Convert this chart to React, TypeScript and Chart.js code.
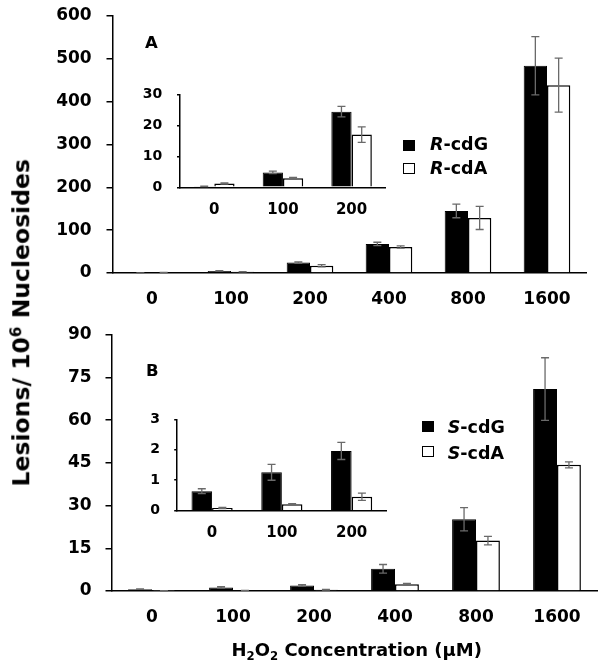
import React, { useEffect, useRef } from 'react';
import { Chart, registerables } from 'chart.js';

Chart.register(...registerables);

// ---------- data ----------
const doseLabels = ['0', '100', '200', '400', '800', '1600'];
const insetDoseLabels = ['0', '100', '200'];

const rCdG = [0.3, 4.8, 24.4, 67.8, 145, 484];
const rCdGErr = [0.1, 0.4, 1.7, 4, 16, 68];
const rCdA = [1.2, 2.9, 17.0, 60.7, 128.5, 438.5];
const rCdAErr = [0.2, 0.3, 2.5, 2.7, 27, 63];

const sCdG = [0.64, 1.26, 1.96, 7.8, 25.2, 70.9];
const sCdGErr = [0.08, 0.26, 0.28, 1.5, 4.1, 11];
const sCdA = [0.09, 0.21, 0.46, 2.35, 17.7, 44.3];
const sCdAErr = [0.02, 0.02, 0.12, 0.3, 1.5, 1.05];

const axisAMax = 600, axisAStep = 100;
const axisBMax = 90, axisBStep = 15;
const insetAMax = 30, insetAStep = 10;
const insetBMax = 3, insetBStep = 1;

const FONT = "'DejaVu Sans', 'Liberation Sans', Arial, sans-serif";

const errorBarPlugin = {
  id: 'errorBars',
  afterDatasetsDraw(chart: any) {
    const ctx = chart.ctx;
    const yScale = chart.scales.y;
    ctx.save();
    ctx.strokeStyle = '#6a6a6a';
    ctx.lineWidth = 1.3;
    chart.data.datasets.forEach((ds: any, i: number) => {
      const errs = ds.errors;
      if (!errs) return;
      const meta = chart.getDatasetMeta(i);
      meta.data.forEach((el: any, j: number) => {
        const v = ds.data[j];
        const e = errs[j];
        const yTop = yScale.getPixelForValue(v + e);
        const yBot = yScale.getPixelForValue(Math.max(v - e, 0));
        const x = el.x;
        const cap = 4;
        ctx.beginPath();
        ctx.moveTo(x, yTop);
        ctx.lineTo(x, yBot);
        ctx.moveTo(x - cap, yTop);
        ctx.lineTo(x + cap, yTop);
        ctx.moveTo(x - cap, yBot);
        ctx.lineTo(x + cap, yBot);
        ctx.stroke();
      });
    });
    ctx.restore();
  },
};

interface Cfg {
  labels: string[];
  black: number[];
  blackErr: number[];
  white: number[];
  whiteErr: number[];
  names: [string, string];
  yMax: number;
  yStep: number;
  yWidth: number;
  xHeight: number;
  padTop: number;
  padRight: number;
  yFont: number;
  xFont: number;
  tickLen: number;
  yPad: number;
  xPad: number;
}

function makeConfig(c: Cfg): any {
  const common = { categoryPercentage: 0.59, barPercentage: 1.0 };
  return {
    type: 'bar',
    data: {
      labels: c.labels,
      datasets: [
        {
          label: c.names[0],
          data: c.black,
          errors: c.blackErr,
          backgroundColor: '#000',
          borderColor: '#000',
          borderWidth: 1,
          ...common,
        },
        {
          label: c.names[1],
          data: c.white,
          errors: c.whiteErr,
          backgroundColor: '#fff',
          borderColor: '#000',
          borderWidth: 1.5,
          ...common,
        },
      ],
    },
    options: {
      responsive: false,
      animation: false,
      devicePixelRatio: 1,
      layout: { padding: { top: c.padTop, right: c.padRight, bottom: 0, left: 0 } },
      plugins: { legend: { display: false }, tooltip: { enabled: false } },
      scales: {
        x: {
          type: 'category',
          offset: true,
          grid: { display: false, drawTicks: false },
          border: { display: true, color: '#000', width: 1.5 },
          ticks: {
            color: '#000',
            font: { family: FONT, weight: 'bold', size: c.xFont },
            padding: c.xPad,
            maxRotation: 0,
            autoSkip: false,
          },
          afterFit: (s: any) => {
            s.height = c.xHeight;
            s.paddingLeft = 0;
            s.paddingRight = 0;
          },
        },
        y: {
          min: 0,
          max: c.yMax,
          grid: {
            display: true,
            drawOnChartArea: false,
            drawTicks: true,
            tickLength: c.tickLen,
            color: '#000',
            lineWidth: 1.5,
          },
          border: { display: true, color: '#000', width: 1.5 },
          ticks: {
            stepSize: c.yStep,
            color: '#000',
            font: { family: FONT, weight: 'bold', size: c.yFont },
            padding: c.yPad,
          },
          afterFit: (s: any) => {
            s.width = c.yWidth;
            s.paddingTop = 0;
            s.paddingBottom = 0;
          },
        },
      },
    },
    plugins: [errorBarPlugin],
  };
}

const textBase: React.CSSProperties = {
  position: 'absolute',
  fontFamily: FONT,
  fontWeight: 'bold',
  lineHeight: 1,
  whiteSpace: 'nowrap',
  color: '#000',
  margin: 0,
};

export default function App() {
  const mainARef = useRef<HTMLCanvasElement>(null);
  const mainBRef = useRef<HTMLCanvasElement>(null);
  const insetARef = useRef<HTMLCanvasElement>(null);
  const insetBRef = useRef<HTMLCanvasElement>(null);

  useEffect(() => {
    const charts: Chart[] = [];
    charts.push(
      new Chart(
        mainARef.current!,
        makeConfig({
          labels: doseLabels,
          black: rCdG,
          blackErr: rCdGErr,
          white: rCdA,
          whiteErr: rCdAErr,
          names: ['R-cdG', 'R-cdA'],
          yMax: axisAMax,
          yStep: axisAStep,
          yWidth: 112.5,
          xHeight: 47,
          padTop: 16,
          padRight: 17.5,
          yFont: 17,
          xFont: 17,
          tickLen: 6,
          yPad: 14.8,
          xPad: 16,
        })
      )
    );
    charts.push(
      new Chart(
        mainBRef.current!,
        makeConfig({
          labels: doseLabels,
          black: sCdG,
          blackErr: sCdGErr,
          white: sCdA,
          whiteErr: sCdAErr,
          names: ['S-cdG', 'S-cdA'],
          yMax: axisBMax,
          yStep: axisBStep,
          yWidth: 111.5,
          xHeight: 79,
          padTop: 14.7,
          padRight: 6.5,
          yFont: 17,
          xFont: 17,
          tickLen: 6,
          yPad: 13.8,
          xPad: 16,
        })
      )
    );
    charts.push(
      new Chart(
        insetARef.current!,
        makeConfig({
          labels: insetDoseLabels,
          black: rCdG.slice(0, 3),
          blackErr: rCdGErr.slice(0, 3),
          white: rCdA.slice(0, 3),
          whiteErr: rCdAErr.slice(0, 3),
          names: ['R-cdG', 'R-cdA'],
          yMax: insetAMax,
          yStep: insetAStep,
          yWidth: 60,
          xHeight: 42.7,
          padTop: 24.3,
          padRight: 14.1,
          yFont: 14,
          xFont: 15,
          tickLen: 3,
          yPad: 14.7,
          xPad: 13.7,
        })
      )
    );
    charts.push(
      new Chart(
        insetBRef.current!,
        makeConfig({
          labels: insetDoseLabels,
          black: sCdG.slice(0, 3),
          blackErr: sCdGErr.slice(0, 3),
          white: sCdA.slice(0, 3),
          whiteErr: sCdAErr.slice(0, 3),
          names: ['S-cdG', 'S-cdA'],
          yMax: insetBMax,
          yStep: insetBStep,
          yWidth: 57.2,
          xHeight: 44.3,
          padTop: 24.3,
          padRight: 13.5,
          yFont: 14,
          xFont: 15,
          tickLen: 3,
          yPad: 14.2,
          xPad: 13.6,
        })
      )
    );
    return () => {
      charts.forEach((ch) => ch.destroy());
    };
  }, []);

  const canvasStyle = (left: number, top: number, w: number, h: number): React.CSSProperties => ({
    position: 'absolute',
    left,
    top,
    width: w,
    height: h,
  });

  const legendFs = 17.5;
  const bl = (fs: number) => 0.846 * fs;

  return (
    <div style={{ position: 'absolute', left: 0, top: 0, width: 604, height: 670, background: '#fff', overflow: 'hidden' }}>
      <canvas ref={mainARef} width={604} height={320} style={canvasStyle(0, 0, 604, 320)} />
      <canvas ref={mainBRef} width={604} height={350} style={canvasStyle(0, 320, 604, 350)} />
      <canvas ref={insetARef} width={280} height={160} style={canvasStyle(120, 70, 280, 160)} />
      <canvas ref={insetBRef} width={280} height={160} style={canvasStyle(120, 395, 280, 160)} />

      {/* panel letters */}
      <div style={{ ...textBase, fontSize: 16.5, left: 145, top: 48.5 - bl(16.5) }}>A</div>
      <div style={{ ...textBase, fontSize: 16.5, left: 146, top: 377.3 - bl(16.5) }}>B</div>

      {/* legend A */}
      <div style={{ position: 'absolute', left: 403, top: 140, width: 12, height: 11, background: '#000' }} />
      <div style={{ position: 'absolute', left: 403, top: 162.5, width: 12, height: 11, background: '#fff', border: '1.5px solid #000', boxSizing: 'border-box' }} />
      <div style={{ ...textBase, fontSize: legendFs, left: 430, top: 150.7 - bl(legendFs) }}>
        <i>R</i>-cdG
      </div>
      <div style={{ ...textBase, fontSize: legendFs, left: 430, top: 174.5 - bl(legendFs) }}>
        <i>R</i>-cdA
      </div>

      {/* legend B */}
      <div style={{ position: 'absolute', left: 422, top: 420.7, width: 12, height: 11, background: '#000' }} />
      <div style={{ position: 'absolute', left: 422, top: 446, width: 12, height: 11, background: '#fff', border: '1.5px solid #000', boxSizing: 'border-box' }} />
      <div style={{ ...textBase, fontSize: legendFs, left: 447.7, top: 433.5 - bl(legendFs) }}>
        <i>S</i>-cdG
      </div>
      <div style={{ ...textBase, fontSize: legendFs, left: 447.7, top: 459.5 - bl(legendFs) }}>
        <i>S</i>-cdA
      </div>

      {/* y-axis title */}
      <div
        style={{
          ...textBase,
          fontSize: 23.5,
          width: 400,
          height: 23.5,
          textAlign: 'center',
          left: 22 - 200,
          top: 322.4 - 11.75,
          transform: 'rotate(-90deg)',
          transformOrigin: 'center center',
        }}
      >
        Lesions/ 10<span style={{ fontSize: '0.65em', position: 'relative', top: '-0.5em' }}>6</span> Nucleosides
      </div>

      {/* x-axis title */}
      <div
        style={{
          ...textBase,
          fontSize: 18,
          width: 400,
          textAlign: 'center',
          left: 356.7 - 200,
          top: 656.5 - bl(18),
        }}
      >
        H<span style={{ fontSize: '0.65em', position: 'relative', top: '0.3em' }}>2</span>O
        <span style={{ fontSize: '0.65em', position: 'relative', top: '0.3em' }}>2</span> Concentration (μM)
      </div>
    </div>
  );
}
